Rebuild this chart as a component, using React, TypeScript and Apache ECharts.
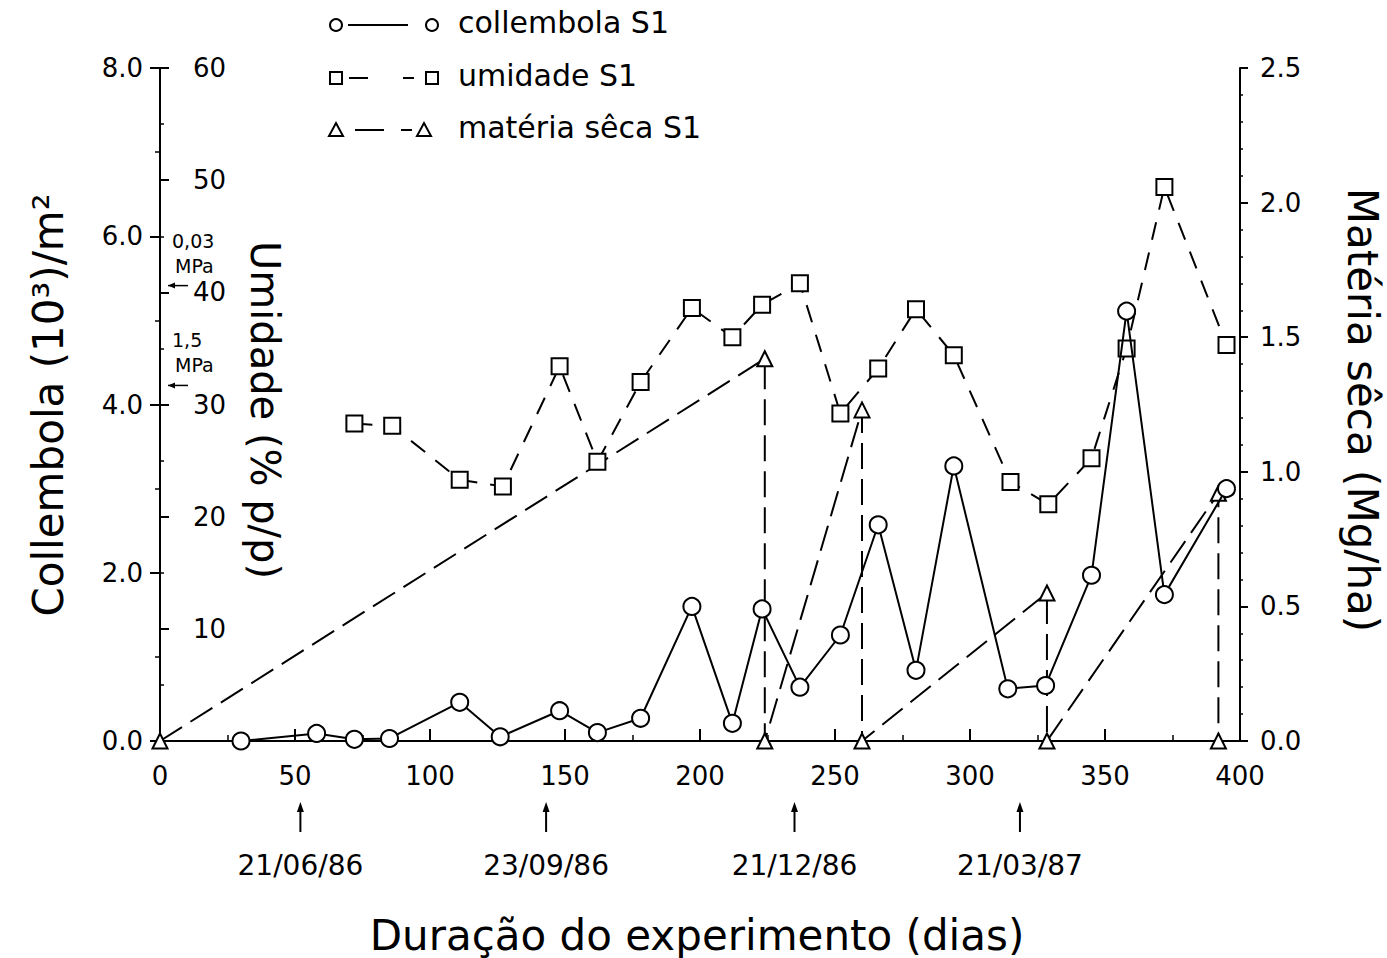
import React, { useEffect, useRef } from "react";
import * as echarts from "echarts";

// collembola S1 (10^3 / m^2)
const collDays = [30, 58, 72, 85, 111, 126, 148, 162, 178, 197, 212, 223, 237, 252, 266, 280, 294, 314, 328, 345, 358, 372, 395];
const collVals = [0, 0.09, 0.02, 0.03, 0.46, 0.05, 0.36, 0.1, 0.27, 1.6, 0.21, 1.57, 0.64, 1.26, 2.57, 0.84, 3.27, 0.62, 0.66, 1.97, 5.11, 1.74, 3.0];

// umidade S1 (% p/p)
const humDays = [72, 86, 111, 127, 148, 162, 178, 197, 212, 223, 237, 252, 266, 280, 294, 315, 329, 345, 358, 372, 395];
const humVals = [28.3, 28.1, 23.3, 22.7, 33.4, 24.9, 32.0, 38.6, 36.0, 38.9, 40.8, 29.2, 33.2, 38.5, 34.4, 23.1, 21.1, 25.2, 35.0, 49.4, 35.3];

// matéria sêca S1 (Mg/ha)
const msDays = [0, 224, 224, 260, 260, 328.5, 328.5, 392, 392];
const msVals = [0, 1.42, 0, 1.23, 0, 0.55, 0, 0.92, 0];

// annotations
const seasonDays = [52, 143, 235, 318.5];
const seasonLabels = ["21/06/86", "23/09/86", "21/12/86", "21/03/87"];
const mpaLevels = [40.6, 31.7];
const mpaLabels = ["0,03", "1,5"];
const legendNames = ["collembola S1", "umidade S1", "matéria sêca S1"];

const FONT = "'DejaVu Sans ExtraLight', 'DejaVu Sans'";

export default function App() {
  const ref = useRef<HTMLDivElement>(null);

  useEffect(() => {
    const chart = echarts.init(ref.current!, null, { renderer: "svg" });
    const black = "#000";
    const labelStyle = { color: black, fontFamily: FONT, fontSize: 26 };

    const option: any = {
      animation: false,
      backgroundColor: "#fff",
      grid: { left: 160, right: 147, top: 68, bottom: 217, containLabel: false },
      xAxis: {
        type: "value",
        min: 0,
        max: 400,
        interval: 50,
        axisLine: { show: true, lineStyle: { color: black, width: 2 } },
        axisTick: { show: true, inside: true, length: 12, lineStyle: { color: black, width: 2 } },
        minorTick: { show: true, splitNumber: 2, length: 6, lineStyle: { color: black, width: 1.5 } },
        splitLine: { show: false },
        axisLabel: { ...labelStyle, margin: 22 },
      },
      yAxis: [
        {
          type: "value",
          position: "left",
          min: 0,
          max: 8,
          interval: 2,
          axisLine: { show: true, onZero: false, lineStyle: { color: black, width: 2 } },
          axisTick: { show: true, inside: false, length: 10, lineStyle: { color: black, width: 2 } },
          minorTick: { show: true, splitNumber: 2, length: 5, lineStyle: { color: black, width: 1.5 } },
          splitLine: { show: false },
          axisLabel: { ...labelStyle, margin: 17, formatter: (v: number) => v.toFixed(1) },
        },
        {
          type: "value",
          position: "left",
          offset: 0,
          min: 0,
          max: 60,
          interval: 10,
          axisLine: { show: false },
          axisTick: { show: true, inside: true, length: 9, lineStyle: { color: black, width: 2 } },
          minorTick: { show: true, splitNumber: 2, length: 4, lineStyle: { color: black, width: 1.5 } },
          splitLine: { show: false },
          axisLabel: { ...labelStyle, inside: true, margin: 33, formatter: (v: number) => (v === 0 ? "" : String(v)) },
        },
        {
          type: "value",
          position: "right",
          min: 0,
          max: 2.5,
          interval: 0.5,
          axisLine: { show: true, onZero: false, lineStyle: { color: black, width: 2 } },
          axisTick: { show: true, inside: false, length: 8, lineStyle: { color: black, width: 2 } },
          minorTick: { show: true, splitNumber: 5, length: 3, lineStyle: { color: black, width: 1.5 } },
          splitLine: { show: false },
          axisLabel: { ...labelStyle, margin: 20, formatter: (v: number) => v.toFixed(1) },
        },
      ],
      series: [
        {
          name: legendNames[2],
          type: "line",
          xAxisIndex: 0,
          yAxisIndex: 2,
          clip: false,
          data: msDays.map((d, i) => [d, msVals[i]]),
          symbol: "triangle",
          symbolSize: 15,
          itemStyle: { color: "#fff", borderColor: black, borderWidth: 2 },
          lineStyle: { color: black, width: 2, type: [26, 10] },
          z: 2,
        },
        {
          name: legendNames[1],
          type: "line",
          xAxisIndex: 0,
          yAxisIndex: 1,
          clip: false,
          data: humDays.map((d, i) => [d, humVals[i]]),
          symbol: "rect",
          symbolSize: 16,
          itemStyle: { color: "#fff", borderColor: black, borderWidth: 2 },
          lineStyle: { color: black, width: 2, type: [18, 13] },
          z: 3,
        },
        {
          name: legendNames[0],
          type: "line",
          xAxisIndex: 0,
          yAxisIndex: 0,
          clip: false,
          data: collDays.map((d, i) => [d, collVals[i]]),
          symbol: "circle",
          symbolSize: 17,
          itemStyle: { color: "#fff", borderColor: black, borderWidth: 2 },
          lineStyle: { color: black, width: 2 },
          z: 4,
        },
      ],
    };
    chart.setOption(option);

    const g: any[] = [];
    const txt = (x: number, y: number, text: string, size: number, rotation = 0, align = "center") => ({
      type: "text",
      x,
      y,
      rotation,
      style: { text, fontFamily: FONT, fontSize: size, fill: black, align, verticalAlign: "middle" },
    });

    // axis titles
    g.push(txt(48, 405, "Collembola (10³)/m²", 42, Math.PI / 2));
    g.push(txt(265, 410, "Umidade (% p/p)", 40, -Math.PI / 2));
    g.push(txt(1362, 410, "Matéria sêca (Mg/ha)", 42, -Math.PI / 2));
    g.push(txt(697, 935, "Duração do experimento (dias)", 42));

    // legend
    const rows = [25, 78, 130];
    const lx1 = 336;
    const lx2 = 432;
    const sym = (kind: number, cx: number, cy: number) => {
      const st = { fill: "#fff", stroke: black, lineWidth: 2 };
      if (kind === 0) return { type: "circle", shape: { cx, cy, r: 6 }, style: st };
      if (kind === 1) return { type: "rect", shape: { x: cx - 6, y: cy - 6, width: 12, height: 12 }, style: st };
      return { type: "polygon", shape: { points: [[cx - 7, cy + 6], [cx + 7, cy + 6], [cx, cy - 7]] }, style: st };
    };
    const seg = (x1: number, x2: number, y: number) => ({
      type: "line",
      shape: { x1, y1: y, x2, y2: y },
      style: { stroke: black, lineWidth: 2 },
    });
    g.push(seg(348, 408, rows[0]));
    g.push(seg(349, 368, rows[1]));
    g.push(seg(403, 414, rows[1]));
    g.push(seg(355, 384, rows[2]));
    g.push(seg(401, 412, rows[2]));
    rows.forEach((y, k) => {
      g.push(sym(k, lx1, y));
      g.push(sym(k, k === 2 ? 424 : lx2, y));
      g.push(txt(458, y - 3, legendNames[k], 30, 0, "left"));
    });

    // season arrows under the x axis
    seasonDays.forEach((d, i) => {
      const px = chart.convertToPixel({ xAxisIndex: 0 }, d) as number;
      g.push({ type: "line", shape: { x1: px, y1: 832, x2: px, y2: 806 }, style: { stroke: black, lineWidth: 2 } });
      g.push({ type: "polygon", shape: { points: [[px - 3.5, 812], [px + 3.5, 812], [px, 802]] }, style: { fill: black } });
      g.push(txt(px, 865, seasonLabels[i], 28));
    });

    // MPa marks on the umidade axis
    mpaLevels.forEach((v, i) => {
      const py = chart.convertToPixel({ yAxisIndex: 1 }, v) as number;
      const ax = chart.convertToPixel({ xAxisIndex: 0 }, 0) as number;
      g.push({ type: "line", shape: { x1: ax + 8, y1: py, x2: ax + 28, y2: py }, style: { stroke: black, lineWidth: 1.5 } });
      g.push({ type: "polygon", shape: { points: [[ax + 8, py], [ax + 15, py - 3], [ax + 15, py + 3]] }, style: { fill: black } });
      g.push(txt(ax + 12, py - 45, mpaLabels[i], 19, 0, "left"));
      g.push(txt(ax + 15, py - 20, "MPa", 19, 0, "left"));
    });

    chart.setOption({ graphic: g });

    return () => chart.dispose();
  }, []);

  return (
    <div
      ref={ref}
      style={{ position: "absolute", left: 0, top: 0, width: 1387, height: 958, background: "#fff" }}
    />
  );
}
